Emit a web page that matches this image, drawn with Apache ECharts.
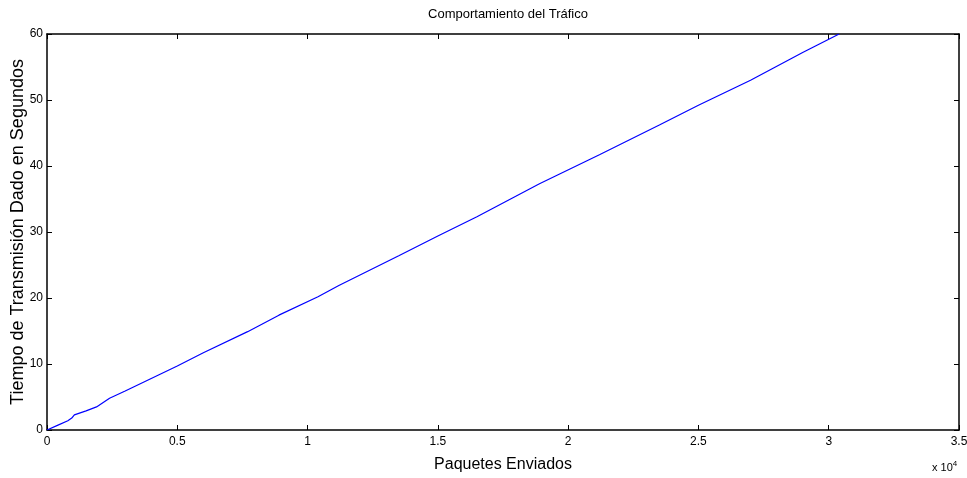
<!DOCTYPE html>
<html><head><meta charset="utf-8">
<script src="https://cdn.jsdelivr.net/npm/echarts@6/dist/echarts.min.js"></script>
<style>html,body{margin:0;padding:0;background:#fff}#c{width:967px;height:478px}</style>
</head><body><div id="c"></div>
<script>
const packets = [0, 400, 800, 950, 1050, 1500, 1900, 2400, 3000, 4000, 5000, 6000, 7700, 8900, 10400, 11200, 13500, 15000, 16500, 18900, 21200, 23500, 25000, 27000, 29000, 30400];
const seconds = [0, 0.7, 1.4, 1.8, 2.3, 2.9, 3.5, 4.8, 5.9, 7.8, 9.7, 11.7, 14.9, 17.4, 20.2, 21.9, 26.4, 29.4, 32.3, 37.3, 41.7, 46.2, 49.2, 53.0, 57.2, 60];
const xTickLabels = ['0', '0.5', '1', '1.5', '2', '2.5', '3', '3.5'];
const yTickLabels = ['0', '10', '20', '30', '40', '50', '60'];
const title = 'Comportamiento del Tráfico';
const xName = 'Paquetes Enviados';
const yName = 'Tiempo de Transmisión Dado en Segundos';

const FONT = '"Liberation Sans", Arial, sans-serif';
const chart = echarts.init(document.getElementById('c'));
const axisLine = {show: true, onZero: false, lineStyle: {color: '#000', width: 1.5}};
const tick = {show: true, inside: true, length: 5, lineStyle: {color: '#000', width: 1}};
chart.setOption({
  animation: false,
  backgroundColor: '#fff',
  title: {text: title, left: 503, top: 3, textAlign: 'center',
    textStyle: {fontFamily: FONT, fontSize: 13, fontWeight: 'normal', color: '#000'}},
  grid: {left: 47, right: 8, top: 34, bottom: 48, containLabel: false, outerBoundsMode: 'none'},
  xAxis: [{
    type: 'value', min: 0, max: 35000, interval: 5000, position: 'bottom',
    axisLine, axisTick: tick, splitLine: {show: false},
    axisLabel: {fontFamily: FONT, fontSize: 12, color: '#000', margin: 6,
      formatter: (v) => xTickLabels[Math.round(v / 5000)]},
    name: xName, nameLocation: 'middle', nameGap: 27, nameMoveOverlap: false,
    nameTextStyle: {fontFamily: FONT, fontSize: 16, color: '#000'}
  }, {
    type: 'value', min: 0, max: 35000, interval: 5000, position: 'top',
    axisLine, axisTick: tick, axisLabel: {show: false}, splitLine: {show: false}
  }],
  yAxis: [{
    type: 'value', min: 0, max: 60, interval: 10, position: 'left',
    axisLine, axisTick: tick, splitLine: {show: false},
    axisLabel: {fontFamily: FONT, fontSize: 12, color: '#000', margin: 4,
      formatter: (v) => yTickLabels[Math.round(v / 10)]},
    name: yName, nameLocation: 'middle', nameGap: 20, nameMoveOverlap: false,
    nameTextStyle: {fontFamily: FONT, fontSize: 18, color: '#000'}
  }, {
    type: 'value', min: 0, max: 60, interval: 10, position: 'right',
    axisLine, axisTick: tick, axisLabel: {show: false}, splitLine: {show: false}
  }],
  graphic: [{
    type: 'text', left: 932, top: 460,
    style: {text: 'x 10{s|4}', fontFamily: FONT, fontSize: 11, fill: '#000',
      rich: {s: {fontSize: 8, verticalAlign: 'top', padding: [0, 0, 8, 0]}}}
  }],
  series: [{
    type: 'line', xAxisIndex: 0, yAxisIndex: 0,
    data: packets.map((p, i) => [p, seconds[i]]),
    showSymbol: false, symbol: 'none',
    lineStyle: {color: '#0000ff', width: 1.2}
  }]
});
</script></body></html>
